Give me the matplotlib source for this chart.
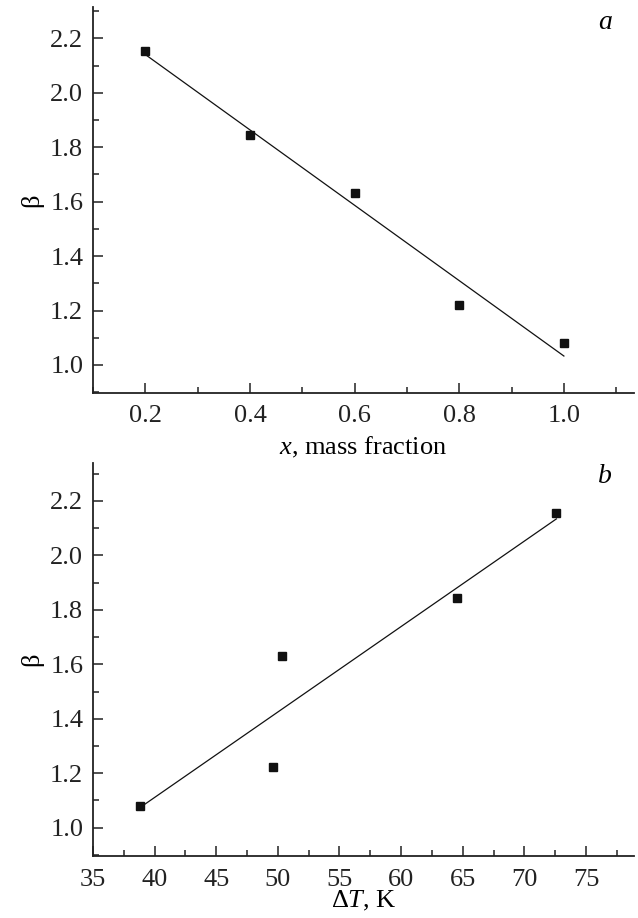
import numpy as np
import matplotlib
matplotlib.use("Agg")
import matplotlib.pyplot as plt
from matplotlib.ticker import MultipleLocator

# Data
x_mass = [0.2, 0.4, 0.6, 0.8, 1.0]
beta_a = [2.155, 1.843, 1.632, 1.222, 1.081]

dT = [38.8, 49.6, 50.3, 64.5, 72.6]
beta_b = [1.081, 1.222, 1.632, 1.843, 2.155]

plt.rcParams['font.family'] = ['Liberation Serif', 'DejaVu Serif']
plt.rcParams['mathtext.fontset'] = 'custom'
plt.rcParams['mathtext.rm'] = 'Liberation Serif'
plt.rcParams['mathtext.it'] = 'Liberation Serif:italic'

FS = 19
fig = plt.figure(figsize=(6.38, 9.18), dpi=100)
ax1 = fig.add_axes([93/638, 1-393/918, (634-93)/638, (393-7)/918])
ax2 = fig.add_axes([93/638, 1-856/918, (634-93)/638, (856-463)/918])

def style(ax):
    for s in ['top', 'right']:
        ax.spines[s].set_visible(False)
    for s in ['left', 'bottom']:
        ax.spines[s].set_linewidth(1.3)
        ax.spines[s].set_color('#222222')
    ax.tick_params(which='major', direction='in', length=7.5, width=1.1,
                   labelsize=FS, colors='#222222')
    ax.tick_params(which='minor', direction='in', length=4, width=1.1,
                   colors='#222222')
    ax.tick_params(axis='x', which='major', pad=9)
    ax.tick_params(axis='y', which='major', pad=7)

def draw(ax, xs, ys):
    xs = np.asarray(xs); ys = np.asarray(ys)
    k, b = np.polyfit(xs, ys, 1)
    xl = np.array([xs.min(), xs.max()])
    ax.plot(xl, k*xl + b, color='#111111', lw=0.9)
    ax.plot(xs, ys, ls='none', marker='s', ms=6, color='#111111')

style(ax1)
draw(ax1, x_mass, beta_a)
ax1.set_xlim(0.1, 1.134)
ax1.set_ylim(0.897, 2.315)
ax1.xaxis.set_minor_locator(MultipleLocator(0.1))
ax1.yaxis.set_minor_locator(MultipleLocator(0.1))
ax1.set_xticks([0.2, 0.4, 0.6, 0.8, 1.0])
ax1.set_xticklabels(['0.2', '0.4', '0.6', '0.8', '1.0'])
ax1.set_yticks([1.0, 1.2, 1.4, 1.6, 1.8, 2.0, 2.2])
ax1.set_yticklabels(['1.0', '1.2', '1.4', '1.6', '1.8', '2.0', '2.2'])
ax1.set_xlabel(r'$\mathit{x}$, mass fraction', fontsize=FS, labelpad=5)
ax1.set_ylabel('β', fontsize=FS, labelpad=5)
ax1.text(0.946, 0.961, 'a', transform=ax1.transAxes, fontsize=FS + 1,
         style='italic', ha='center', va='center')

style(ax2)
draw(ax2, dT, beta_b)
ax2.set_xlim(35, 78.9)
ax2.set_ylim(0.896, 2.339)
ax2.xaxis.set_minor_locator(MultipleLocator(2.5))
ax2.yaxis.set_minor_locator(MultipleLocator(0.1))
ax2.set_xticks([35, 40, 45, 50, 55, 60, 65, 70, 75])
ax2.set_yticks([1.0, 1.2, 1.4, 1.6, 1.8, 2.0, 2.2])
ax2.set_yticklabels(['1.0', '1.2', '1.4', '1.6', '1.8', '2.0', '2.2'])
ax2.set_xlabel(r'Δ$\mathit{T}$, K', fontsize=FS, labelpad=-1)
ax2.set_ylabel('β', fontsize=FS, labelpad=5)
ax2.text(0.946, 0.965, 'b', transform=ax2.transAxes, fontsize=FS + 1,
         style='italic', ha='center', va='center')

fig.savefig('out.png', dpi=100)
